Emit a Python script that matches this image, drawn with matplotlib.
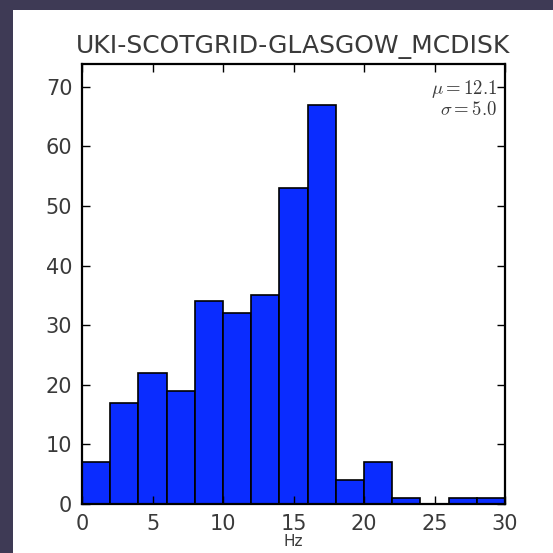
import matplotlib
matplotlib.use("Agg")
import matplotlib.pyplot as plt
from matplotlib.patches import Rectangle

# Datos del histograma (bins de 2 Hz)
bin_edges = [0, 2, 4, 6, 8, 10, 12, 14, 16, 18, 20, 22, 24, 26, 28, 30]
counts = [7, 17, 22, 19, 34, 32, 35, 53, 67, 4, 7, 1, 0, 1, 1]
titulo = "UKI-SCOTGRID-GLASGOW_MCDISK"
mu = 12.1
sigma = 5.0
x_ticks = [0, 5, 10, 15, 20, 25, 30]
y_ticks = [0, 10, 20, 30, 40, 50, 60, 70]

plt.rcParams['mathtext.fontset'] = 'cm'

fig = plt.figure(figsize=(5.53, 5.53), dpi=100, facecolor='#3e3a55')

# Panel blanco de la diapositiva
fig.patches.append(Rectangle((13/553, 0), 1, 1 - 10/553, transform=fig.transFigure,
                             facecolor='white', edgecolor='none', zorder=-10))

ax = fig.add_axes([0.1483, 0.0886, 0.765, 0.7957])
ax.set_zorder(5)

lefts = bin_edges[:-1]
widths = [bin_edges[i+1] - bin_edges[i] for i in range(len(lefts))]
ax.bar(lefts, counts, width=widths, align='edge', color='#0a2cff',
       edgecolor='black', linewidth=1.2)

ax.set_xlim(0, 30)
ax.set_ylim(0, 73.8)
ax.set_xticks(x_ticks)
ax.set_yticks(y_ticks)

ax.tick_params(direction='in', length=6, width=1.0, top=True, right=True,
               labelsize=15, labelcolor='#3a3a3a', pad=7)
for s in ax.spines.values():
    s.set_linewidth(1.6)

ax.set_title(titulo, fontsize=18, color='#3a3a3a', pad=8)
ax.set_xlabel('Hz', fontsize=11, color='#3a3a3a', labelpad=0)

ax.text(0.982, 0.968, r'$\mu=%.1f$' % mu + '\n' + r'$\sigma=%.1f$' % sigma,
        transform=ax.transAxes, ha='right', va='top', fontsize=13.5,
        color='#3a3a3a', linespacing=1.0)

fig.savefig('out.png', dpi=100, facecolor=fig.get_facecolor())
